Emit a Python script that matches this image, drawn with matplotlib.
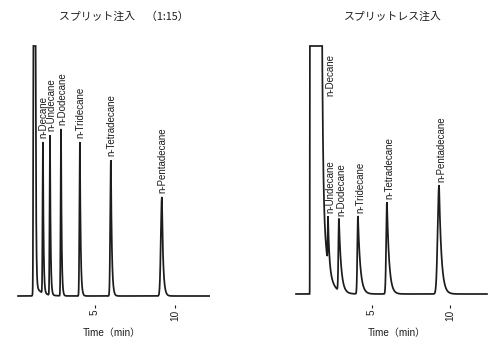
import numpy as np
import matplotlib
matplotlib.use("Agg")
import matplotlib.pyplot as plt

plt.rcParams['font.family'] = ['Liberation Sans', 'Noto Sans CJK JP', 'DejaVu Sans']

# peak table (time in min, height in detector units)
compounds = ["n-Decane", "n-Undecane", "n-Dodecane", "n-Tridecane",
             "n-Tetradecane", "n-Pentadecane"]

split_rt = [1.75, 2.19, 2.88, 4.06, 6.0, 9.19]
split_height = [151, 160, 167, 154, 136, 99]
split_sigma = [0.025, 0.025, 0.025, 0.03, 0.04, 0.065]
split_tail = [0.04, 0.04, 0.04, 0.05, 0.06, 0.08]

splitless_rt = [1.75, 2.18, 2.88, 4.1, 5.96, 9.3]
splitless_height = [0, 47, 72, 78, 92, 109]
splitless_sigma = [0.03, 0.02, 0.035, 0.04, 0.05, 0.09]
splitless_tail = [0.1, 0.08, 0.14, 0.15, 0.14, 0.15]

# solvent peaks (overloaded, clipped at detector full scale)
split_solvent_rt = [1.2, 1.2]
split_solvent_height = [5000, 12]
split_solvent_sigma = [0.025, 0.05]
split_solvent_tail = [0.03, 0.4]

splitless_solvent_rt = [1.06, 1.06]
splitless_solvent_height = [1.5e7, 1000]
splitless_solvent_sigma = [0.01, 0.01]
splitless_solvent_tail = [0.065, 0.32]

split_full_scale = 250
splitless_full_scale = 248

titles = ["スプリット注入　（1:15）", "スプリットレス注入"]
xlabel = "Time（min）"


def peak(t, rt, h, s, tau):
    d = t - rt
    return np.where(d < 0, h * np.exp(-0.5 * (d / s) ** 2),
                    h * np.exp(-np.clip(d, 0, None) / tau))


def trace(t, rts, hs, ss, taus):
    y = np.zeros_like(t)
    for rt, h, s, tau in zip(rts, hs, ss, taus):
        y += peak(t, rt, h, s, tau)
    return y


fig = plt.figure(figsize=(5, 3.44), dpi=100)
ax1 = fig.add_axes([15 / 500, 39 / 344, 195 / 500, 269 / 344])
ax2 = fig.add_axes([294 / 500, 39 / 344, 195 / 500, 269 / 344])

col = "#1c1c1c"
lw = 1.25

# split injection
t1 = np.linspace(0.19, 12.2, 8000)
y1 = trace(t1, split_solvent_rt, split_solvent_height, split_solvent_sigma, split_solvent_tail)
y1 += trace(t1, split_rt, split_height, split_sigma, split_tail)
y1 = np.minimum(y1, split_full_scale)
ax1.plot(t1, y1, color=col, lw=lw, solid_joinstyle="miter")
ax1.set_xlim(0, 12.2)
ax1.set_ylim(-9, 260)

# splitless injection
t2 = np.linspace(0.13, 12.37, 8000)
y2 = trace(t2, splitless_solvent_rt, splitless_solvent_height,
           splitless_solvent_sigma, splitless_solvent_tail)
y2 += trace(t2, splitless_rt, splitless_height, splitless_sigma, splitless_tail)
y2 = np.minimum(y2, splitless_full_scale)
ax2.plot(t2, y2, color=col, lw=lw, solid_joinstyle="miter")
ax2.set_xlim(0, 12.5)
ax2.set_ylim(-11, 258)

# peak labels (the two first split labels are nudged apart a little)
lab_kw = dict(rotation=90, ha="center", va="bottom", fontsize=7.0, color=col)
split_nudge = [0.02, 0.1, 0.07, 0.04, 0.06, 0.06]
for name, rt, dx in zip(compounds, split_rt, split_nudge):
    m = (t1 > rt - 0.1) & (t1 < rt + 0.1)
    ax1.text(rt + dx, y1[m].max() + 4, name, **lab_kw)
for i, (name, rt) in enumerate(zip(compounds, splitless_rt)):
    if i == 0:
        # n-Decane is buried in the solvent peak; label sits beside it
        flat_end = t2[y2 >= splitless_full_scale].max()
        ax2.text(flat_end + 0.5, splitless_full_scale - 50, name, **lab_kw)
        continue
    m = (t2 > rt - 0.1) & (t2 < rt + 0.1)
    ax2.text(rt + 0.15, y2[m].max() + 3, name, **lab_kw)

for ax, title, tx, lx in [(ax1, titles[0], 0.56, 0.497), (ax2, titles[1], 0.508, 0.528)]:
    for sp in ax.spines.values():
        sp.set_visible(False)
    ax.set_yticks([])
    ax.set_xticks([5, 10])
    ax.set_xticklabels(["5", "10"], rotation=90, fontsize=7.2, color=col)
    ax.tick_params(axis="x", length=2, width=0.8, pad=1.5, color=col)
    ax.set_xlabel(xlabel, fontsize=7.2, color=col)
    ax.xaxis.set_label_coords(lx, -0.085)
    ax.text(tx, 1.0706, title, transform=ax.transAxes, ha="center", va="center",
            fontsize=7.8, color=col, family=['Noto Sans CJK JP', 'Liberation Sans'])

fig.savefig("out.png", dpi=100)
